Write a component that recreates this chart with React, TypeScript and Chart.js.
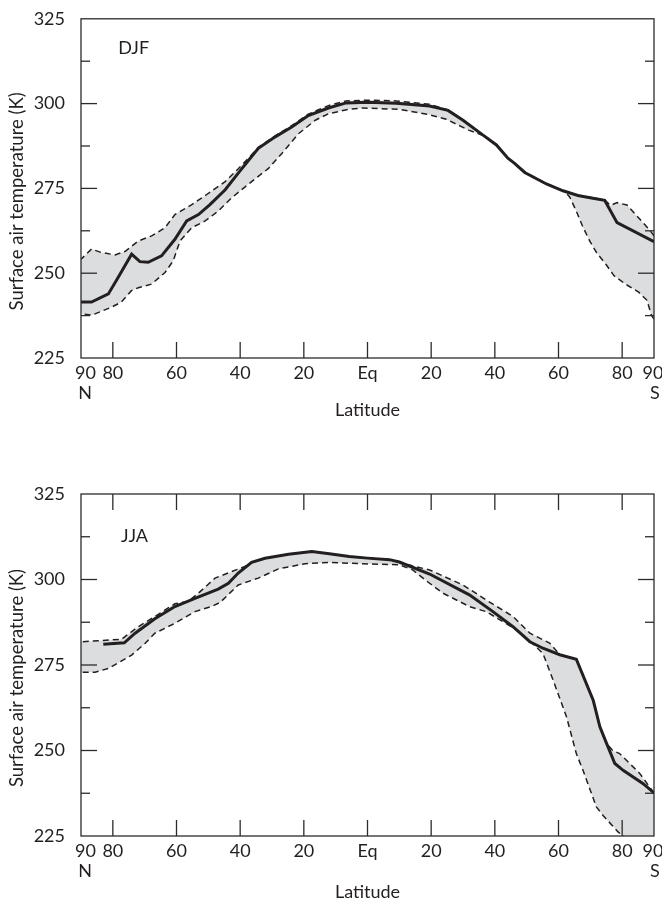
import React, { useEffect, useRef } from "react";
import { Chart, registerables } from "chart.js";

Chart.register(...registerables);

// Latitude ticks (degrees, north positive)
const latTicks = [90, 80, 60, 40, 20, 0, -20, -40, -60, -80, -90];
const tempRange = [225, 325];
const tempStep = 12.5;

// DJF: [latitude (N positive), temperature K]
const djfMean = [
  [90, 241.5], [86.7, 241.5], [81.4, 243.9], [78.3, 248.8], [74.1, 255.6], [71.5, 253.4],
  [68.9, 253.2], [64.7, 255.1], [60.5, 260], [56.8, 265.4], [53.1, 267.3], [49.5, 270.2],
  [44.7, 274.6], [40.6, 279.5], [36.4, 284.4], [34.3, 286.8], [29, 290.2], [23.8, 293.1],
  [18.6, 296.5], [12.3, 298.7], [6.7, 300.2], [0, 300.4], [-9, 300.1], [-19.5, 299.3],
  [-25.3, 298], [-30, 295.1], [-36.3, 290.7], [-40.5, 287.8], [-44.1, 283.9], [-46.2, 282.4],
  [-49.4, 279.7], [-56.2, 276.3], [-61.4, 274.3], [-66.1, 272.9], [-70.8, 272.1], [-74.5, 271.5],
  [-78.4, 264.9], [-90, 259.3],
];
const djfUpper = [
  [90, 254.1], [86.7, 257.1], [83.6, 256.1], [79.3, 255.4], [76.2, 256.4], [72, 259.5],
  [67.8, 261], [63.6, 263.4], [60.5, 267.3], [55.2, 270.2], [50.5, 273.2], [44.7, 277],
  [40.6, 280.8], [36.4, 284.9], [34.3, 287.1], [29, 290.5], [23.8, 293.5], [18.6, 296.9],
  [12.3, 299.4], [6.7, 300.8], [0, 301], [-9, 300.8], [-19.5, 299.8], [-25.3, 298.1],
  [-30, 295.2], [-36.3, 290.8], [-40.5, 287.9], [-44.1, 284], [-46.2, 282.5], [-49.4, 279.8],
  [-56.2, 276.4], [-61.4, 274.4], [-66.1, 273], [-70.8, 272.2], [-74.5, 271.6], [-76.3, 270],
  [-78.4, 270.8], [-81.5, 270.1], [-85.2, 266.3], [-88.9, 262.4], [-90, 261],
];
const djfLower = [
  [90, 238.1], [86.7, 237.6], [80.4, 240], [77.3, 241.5], [74.1, 244.9], [72, 245.7],
  [67.8, 246.8], [63.6, 250.2], [61, 253.7], [58.9, 259.5], [55.2, 263.4], [51, 265.4],
  [46.9, 268.3], [42.7, 272.2], [36.4, 277], [31.1, 280.9], [26.9, 285.3], [21.7, 291.1],
  [16.4, 295.1], [12.3, 297], [6, 298.3], [1.5, 298.7], [-10, 298.3], [-19.5, 296.7],
  [-24.7, 295.4], [-32, 292.1], [-36.3, 290.6], [-40.5, 287.8], [-44.1, 283.9], [-46.2, 282.4],
  [-49.4, 279.7], [-56.2, 276.3], [-62, 274.1], [-63.5, 272.5], [-65.6, 268.3], [-67.5, 264],
  [-69.8, 259.5], [-72, 256], [-75, 252.5], [-77.4, 249.3], [-81, 246.8], [-85.2, 244.4],
  [-87.8, 242], [-89.2, 237.6], [-90, 236.5],
];

// JJA
const jjaMean = [
  [83, 281.1], [76.4, 281.5], [73, 284.3], [66.8, 288.5], [60.5, 292.1], [54.2, 294.5],
  [46.9, 297.2], [43.7, 298.9], [40.6, 301.9], [36.4, 305], [32.2, 306.2], [24.8, 307.4],
  [17.5, 308.2], [12, 307.5], [5.7, 306.7], [0, 306.25], [-6.9, 305.8], [-10, 305.1],
  [-19.5, 301.6], [-32, 295.5], [-39.4, 290.6], [-45.7, 286.2], [-51, 281.8], [-55.1, 279.9],
  [-60.4, 278], [-65.6, 276.7], [-70.9, 264.7], [-73, 256.9], [-75.1, 252.1], [-77.7, 246.2],
  [-80.3, 244.2], [-86.6, 240.3], [-90, 237.6],
];
const jjaUpper = [
  [90, 281.8], [84.6, 282.1], [77.3, 282.5], [72, 286.2], [66.8, 289.2], [60.5, 292.9],
  [56.3, 293.6], [53.1, 296], [47.9, 300.4], [42.7, 302.3], [38.5, 303.8], [36.4, 305],
  [32.2, 306.2], [24.8, 307.4], [17.5, 308.2], [12, 307.5], [5.7, 306.7], [0, 306.25],
  [-6.9, 305.8], [-10, 305.1], [-14, 304], [-19.5, 302.8], [-30, 298.4], [-37.3, 294],
  [-45.7, 289.2], [-51, 284.3], [-57.2, 281.4], [-60.4, 278], [-65.6, 276.7], [-70.9, 264.7],
  [-73, 256.9], [-75.1, 252.1], [-77, 250], [-79.2, 249.1], [-85.5, 243.3], [-90, 237.6],
];
const jjaLower = [
  [90, 272.9], [85.6, 272.9], [81.4, 274], [74.1, 277.9], [69.9, 281.3], [66.8, 284.3],
  [60.5, 287.2], [54.2, 290.6], [49, 292.1], [46.3, 293.3], [40.6, 298.4], [34.3, 300.4],
  [28, 303.1], [19.6, 304.6], [12.3, 305], [1.5, 304.6], [-10, 304.3], [-14.2, 302.8],
  [-19.5, 298.9], [-23.7, 296], [-32, 292.1], [-37.3, 290.6], [-42.5, 287.7], [-46.8, 285.3],
  [-51, 282], [-55.1, 278.4], [-58.3, 270.6], [-62.5, 259.9], [-65.6, 249.1], [-67.7, 244.2],
  [-71.9, 233.5], [-74, 231], [-78.7, 226.2], [-84, 222], [-90, 220],
];

const FONT = "Lato, 'Noto Sans', sans-serif";
const FS = 18;
const INK = "#231f20";
const FILL = "#dcdddf";

const toXY = (arr: number[][]) =>
  arr.slice().sort((a, b) => a[0] - b[0]).map(([x, y]) => ({ x, y }));

const latLabel = (v: number): string[] => {
  if (v === 90) return ["90", "N"];
  if (v === -90) return ["90", "S"];
  if (v === 0) return ["Eq"];
  return [String(Math.abs(v))];
};

const decorPlugin = {
  id: "decor",
  afterDatasetsDraw(chart: any, _args: any, opts: any) {
    const { ctx, chartArea: a, scales } = chart;
    const x = scales.x;
    const y = scales.y;
    ctx.save();
    ctx.strokeStyle = "#2b2b2b";
    ctx.lineWidth = 1.3;
    ctx.setLineDash([]);
    ctx.strokeRect(a.left, a.top, a.right - a.left, a.bottom - a.top);
    const seg = (x1: number, y1: number, x2: number, y2: number) => {
      ctx.beginPath();
      ctx.moveTo(x1, y1);
      ctx.lineTo(x2, y2);
      ctx.stroke();
    };
    for (const v of latTicks) {
      if (Math.abs(v) >= 90) continue;
      const px = x.getPixelForValue(v);
      seg(px, a.bottom, px, a.bottom - 16);
      if (opts.topTicks) seg(px, a.top, px, a.top + 16);
    }
    for (const t of y.ticks) {
      const v = t.value;
      if (v <= tempRange[0] || v >= tempRange[1]) continue;
      const py = y.getPixelForValue(v);
      const len = v % 25 === 0 ? 16 : 9;
      seg(a.left, py, a.left + len, py);
      seg(a.right, py, a.right - len, py);
    }
    // x tick labels
    ctx.fillStyle = INK;
    ctx.font = `${FS}px ${FONT}`;
    ctx.textAlign = "center";
    ctx.textBaseline = "middle";
    for (const v of latTicks) {
      const px = x.getPixelForValue(v);
      const lines = latLabel(v);
      const dx0 = v === 90 ? 4.5 : v === -90 ? -1 : 0;
      const dx1 = v === 90 ? 4 : v === -90 ? 1 : 0;
      ctx.fillText(lines[0], px + dx0, a.bottom + 15);
      if (lines[1]) ctx.fillText(lines[1], px + dx1, a.bottom + 35.5);
    }
    // season label
    ctx.textAlign = "left";
    ctx.fillText(opts.label, x.getPixelForValue(opts.labelLat), y.getPixelForValue(opts.labelT));
    // y title
    ctx.save();
    ctx.font = `18.5px ${FONT}`;
    ctx.translate(17, (a.top + a.bottom) / 2 + 13);
    ctx.rotate(-Math.PI / 2);
    ctx.textAlign = "center";
    ctx.fillText("Surface air temperature (K)", 0, 0);
    ctx.restore();
    ctx.restore();
  },
};

type PanelProps = {
  height: number;
  padTop: number;
  plotH: number;
  label: string;
  labelLat: number;
  labelT: number;
  mean: number[][];
  upper: number[][];
  lower: number[][];
  topTicks: boolean;
};

function Panel(p: PanelProps) {
  const ref = useRef<HTMLCanvasElement>(null);
  useEffect(() => {
    if (!ref.current) return;
    const xHeight = p.height - p.padTop - p.plotH;
    const chart = new Chart(ref.current, {
      type: "line",
      data: {
        datasets: [
          {
            label: "mean",
            data: toXY(p.mean),
            borderColor: INK,
            borderWidth: 3,
            pointRadius: 0,
            fill: false,
            tension: 0,
          },
          {
            label: "upper",
            data: toXY(p.upper),
            borderColor: INK,
            borderWidth: 1.5,
            borderDash: [6, 4],
            pointRadius: 0,
            fill: false,
            tension: 0,
          },
          {
            label: "lower",
            data: toXY(p.lower),
            borderColor: INK,
            borderWidth: 1.5,
            borderDash: [6, 4],
            pointRadius: 0,
            fill: "-1",
            backgroundColor: FILL,
            tension: 0,
          },
        ],
      },
      options: {
        animation: false,
        responsive: false,
        devicePixelRatio: 1,
        layout: { padding: { top: p.padTop, right: 8, left: 0, bottom: 0 } },
        plugins: {
          legend: { display: false },
          tooltip: { enabled: false },
          decor: {
            label: p.label,
            labelLat: p.labelLat,
            labelT: p.labelT,
            topTicks: p.topTicks,
          },
        } as any,
        scales: {
          x: {
            type: "linear",
            min: -90,
            max: 90,
            reverse: true,
            grid: { display: false },
            border: { display: false },
            ticks: { display: false },
            afterBuildTicks: (s: any) => {
              s.ticks = latTicks.map((v) => ({ value: v }));
            },
            afterFit: (s: any) => {
              s.height = xHeight;
            },
            title: {
              display: true,
              text: "Latitude",
              color: INK,
              font: { family: FONT, size: FS, lineHeight: 20 / FS },
              padding: 0,
            },
          },
          y: {
            type: "linear",
            min: tempRange[0],
            max: tempRange[1],
            grid: { display: false },
            border: { display: false },
            ticks: {
              stepSize: tempStep,
              autoSkip: false,
              padding: 8,
              color: INK,
              font: { family: FONT, size: FS },
              callback: (v: any) => (Number(v) % 25 === 0 ? String(v) : ""),
            },
            afterFit: (s: any) => {
              s.width = 81;
            },
          },
        },
      },
      plugins: [decorPlugin],
    } as any);
    return () => chart.destroy();
  }, []);
  return (
    <canvas
      ref={ref}
      width={662}
      height={p.height}
      style={{ display: "block", width: 662, height: p.height }}
    />
  );
}

export default function App() {
  return (
    <div style={{ position: "absolute", left: 0, top: 0, width: 662, background: "#fff" }}>
      <Panel
        height={420}
        padTop={16}
        plotH={342}
        label="DJF"
        labelLat={78.3}
        labelT={316.4}
        mean={djfMean}
        upper={djfUpper}
        lower={djfLower}
        topTicks={false}
      />
      <Panel
        height={482}
        padTop={74}
        plotH={342}
        label="JJA"
        labelLat={77.4}
        labelT={312.8}
        mean={jjaMean}
        upper={jjaUpper}
        lower={jjaLower}
        topTicks={true}
      />
    </div>
  );
}
